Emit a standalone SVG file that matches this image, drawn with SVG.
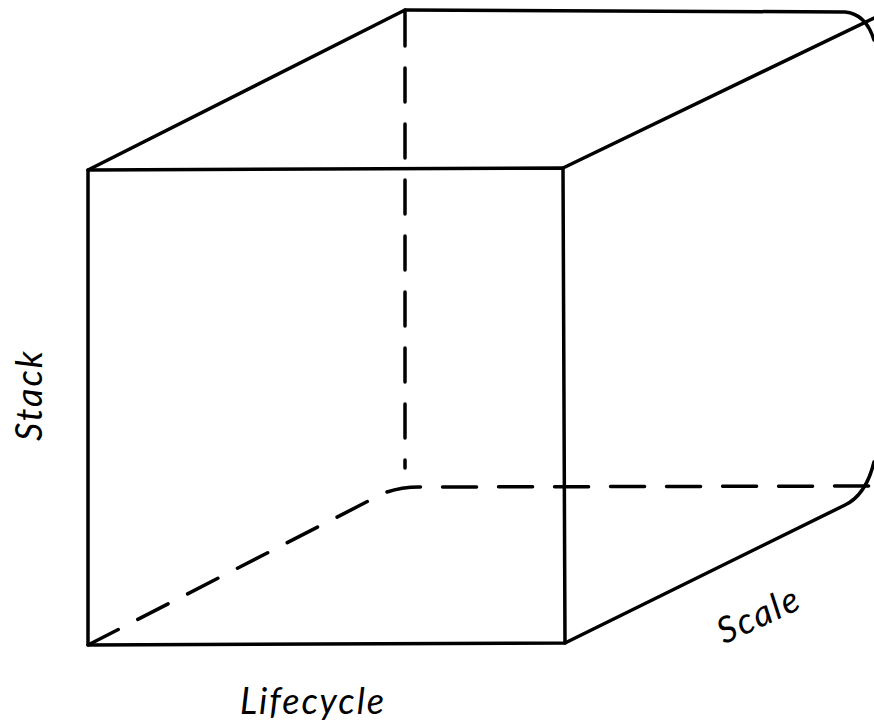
<svg xmlns="http://www.w3.org/2000/svg" width="874" height="725" viewBox="0 0 874 725">
<style>
.e{fill:none;stroke:#000;stroke-width:3.5;stroke-linecap:round;stroke-linejoin:round}
.d{stroke-dasharray:34 22}
.t{font-family:"Comic Sans MS","Lato","DejaVu Sans",sans-serif;font-style:italic;font-size:36px;letter-spacing:2px;fill:#000}
</style>
<rect width="874" height="725" fill="#fff"/>
<g id="connectors">
<path class="e d" d="M405,12 L405,468"/>
<path class="e d" d="M88,645 L382,494 Q400,486 425,487 L874,486"/>
<path class="e" d="M405,10 L845,12 Q866,14 874,40"/>
<path class="e" d="M88,170 L405,10"/>
<path class="e" d="M563,168 L874,18"/>
<path class="e" d="M565,643 L845,505 Q866,495 874,462"/>
</g>
<g id="front">
<path class="e" d="M88,170 L563,168 L565,643 L88,645 Z"/>
</g>
<g id="labels">
<text class="t" transform="translate(42,395) rotate(-90)" text-anchor="middle">Stack</text>
<text class="t" x="313" y="714" text-anchor="middle">Lifecycle</text>
<text class="t" transform="translate(764,626) rotate(-25)" text-anchor="middle">Scale</text>
</g>
</svg>
